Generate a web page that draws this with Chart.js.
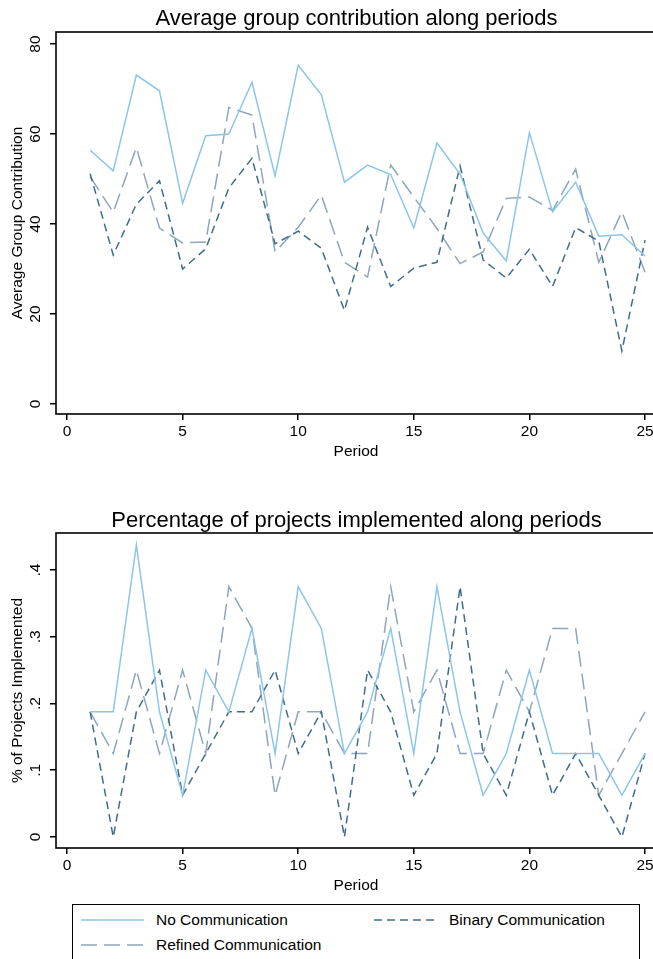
<!DOCTYPE html>
<html><head><meta charset="utf-8">
<script src="https://cdn.jsdelivr.net/npm/chart.js@4.4.0/dist/chart.umd.min.js"></script>
<style>
html,body{margin:0;padding:0;width:653px;height:959px;overflow:hidden;background:#fff;font-family:"Liberation Sans",Arial,sans-serif;}
canvas{position:absolute;left:0;}
#c1{top:0;}
#c2{top:470px;}
#legbox{position:absolute;left:72px;top:904px;width:568px;height:80px;border:1.6px solid #000;box-sizing:border-box;}
.lt{position:absolute;font-size:15.5px;line-height:18px;height:18px;color:#000;white-space:nowrap;}
.ls{position:absolute;}
</style>
</head><body>
<canvas id="c1" width="660" height="470"></canvas>
<canvas id="c2" width="660" height="430"></canvas>
<div id="legbox"></div>
<div id="legend"></div>
<script>
// ---- data ----
const periods = [1,2,3,4,5,6,7,8,9,10,11,12,13,14,15,16,17,18,19,20,21,22,23,24,25];
const seriesNames = ["No Communication","Binary Communication","Refined Communication"];

const contribNo      = [56.4,51.8,73.1,69.6,44.6,59.6,60.0,71.5,50.7,75.3,68.7,49.3,53.1,51.0,39.1,58.0,51.1,38.0,31.8,60.3,42.7,49.3,37.3,37.6,32.9];
const contribBinary  = [51.2,33.1,44.4,49.6,30.0,34.5,48.0,54.6,35.6,38.4,34.6,20.8,39.3,26.1,30.2,31.5,52.9,32.0,28.0,34.4,26.1,39.2,36.2,11.8,36.4];
const contribRefined = [50.5,42.6,57.0,39.1,35.8,36.0,65.9,64.2,33.8,39.3,46.4,31.5,28.2,53.1,46.0,39.0,31.2,33.8,45.7,46.0,43.0,52.2,31.5,42.7,29.3];

const projNo      = [0.1875,0.1875,0.4375,0.1875,0.0625,0.25,0.1875,0.3125,0.125,0.375,0.3125,0.125,0.1875,0.3125,0.125,0.375,0.1875,0.0625,0.125,0.25,0.125,0.125,0.125,0.0625,0.125];
const projBinary  = [0.1875,0,0.1875,0.25,0.0625,0.125,0.1875,0.1875,0.25,0.125,0.1875,0,0.25,0.1875,0.0625,0.125,0.375,0.125,0.0625,0.1875,0.0625,0.125,0.0625,0,0.125];
const projRefined = [0.1875,0.125,0.25,0.125,0.25,0.125,0.375,0.3125,0.0625,0.1875,0.1875,0.125,0.125,0.375,0.1875,0.25,0.125,0.125,0.25,0.1875,0.3125,0.3125,0.0625,0.125,0.1875];

const xTicks = [0,5,10,15,20,25];
const xTickLabels = ["0","5","10","15","20","25"];
const contribYTicks = [0,20,40,60,80];
const contribYLabels = ["0","20","40","60","80"];
const projYTicks = [0,0.1,0.2,0.3,0.4];
const projYLabels = ["0",".1",".2",".3",".4"];

// ---- style ----
const colors = ["#8cc5ea","#3e6d8b","#8ea5ba"];
const dashes = [[],[8,5],[16,7]];
const FONT = '"Liberation Sans", Arial, sans-serif';

function makeChart(id, cfg) {
  const series = cfg.series;
  const datasets = series.map((arr, k) => ({
    label: seriesNames[k],
    data: periods.map((p, i) => ({x: p, y: arr[i]})),
    borderColor: colors[k],
    borderWidth: 1.5,
    borderDash: dashes[k],
    borderCapStyle: 'butt',
    pointRadius: 0,
    tension: 0,
    fill: false
  }));
  const overlay = {
    id: 'overlay',
    afterDraw(chart) {
      const ctx = chart.ctx, a = chart.chartArea, ys = chart.scales.y;
      ctx.save();
      ctx.strokeStyle = '#000';
      ctx.lineWidth = 1.6;
      ctx.strokeRect(a.left, a.top, a.right - a.left, a.bottom - a.top);
      // title
      ctx.fillStyle = '#000';
      ctx.font = '22px ' + FONT;
      ctx.textAlign = 'center';
      ctx.textBaseline = 'alphabetic';
      ctx.fillText(cfg.title, (a.left + a.right) / 2 + 0.5, cfg.titleBaseline);
      // rotated y tick labels
      ctx.font = '15.5px ' + FONT;
      ctx.textBaseline = 'middle';
      cfg.yTicks.forEach((v, i) => {
        const py = ys.getPixelForValue(v);
        ctx.save();
        ctx.translate(36, py);
        ctx.rotate(-Math.PI / 2);
        ctx.fillText(cfg.yLabels[i], 0, 0);
        ctx.restore();
      });
      ctx.restore();
    }
  };
  return new Chart(document.getElementById(id), {
    type: 'line',
    data: {datasets},
    plugins: [overlay],
    options: {
      responsive: false,
      animation: false,
      devicePixelRatio: 1,
      layout: {padding: {top: cfg.padTop, left: 0, right: 4, bottom: 0}},
      plugins: {legend: {display: false}, tooltip: {enabled: false}, title: {display: false}},
      scales: {
        x: {
          type: 'linear',
          min: -0.476, max: 25.475,
          afterBuildTicks: s => { s.ticks = xTicks.map(v => ({value: v})); },
          afterFit: s => { s.height = cfg.xHeight; },
          ticks: {
            callback: (v, i) => xTickLabels[i],
            color: '#000', font: {family: FONT, size: 15.5}, padding: 2,
            maxRotation: 0, minRotation: 0, autoSkip: false
          },
          grid: {drawOnChartArea: false, drawTicks: true, tickLength: 6, color: '#000', lineWidth: 1.5},
          border: {display: false},
          title: {display: true, text: 'Period', color: '#000', font: {family: FONT, size: 15.5},
                  padding: {top: 0, bottom: cfg.xTitlePad}}
        },
        y: {
          type: 'linear',
          min: cfg.yMin, max: cfg.yMax,
          afterBuildTicks: s => { s.ticks = cfg.yTicks.map(v => ({value: v})); },
          afterFit: s => { s.width = 56; },
          ticks: {display: false},
          grid: {drawOnChartArea: false, drawTicks: true, tickLength: 6, color: '#000', lineWidth: 1.5},
          border: {display: false},
          title: {display: true, text: cfg.yTitle, color: '#000', font: {family: FONT, size: 15.5},
                  padding: {top: 8, bottom: 0}}
        }
      }
    }
  });
}

makeChart('c1', {
  series: [contribNo, contribBinary, contribRefined],
  title: 'Average group contribution along periods',
  titleBaseline: 25,
  yTitle: 'Average Group Contribution',
  yTicks: contribYTicks, yLabels: contribYLabels,
  yMin: -2.22, yMax: 82.67,
  padTop: 32, xHeight: 56, xTitlePad: 9.1
});

makeChart('c2', {
  series: [projNo, projBinary, projRefined],
  title: 'Percentage of projects implemented along periods',
  titleBaseline: 57,
  yTitle: '% of Projects Implemented',
  yTicks: projYTicks, yLabels: projYLabels,
  yMin: -0.0165, yMax: 0.4554,
  padTop: 63, xHeight: 52, xTitlePad: 5.1
});

// ---- legend ----
const legItems = [
  {k: 0, sx: 81, tx: 156, y: 920},
  {k: 1, sx: 374, tx: 449, y: 920},
  {k: 2, sx: 81, tx: 156, y: 945}
];
const leg = document.getElementById('legend');
legItems.forEach(it => {
  const svgNS = 'http://www.w3.org/2000/svg';
  const svg = document.createElementNS(svgNS, 'svg');
  svg.setAttribute('width', '64'); svg.setAttribute('height', '4');
  svg.setAttribute('class', 'ls');
  svg.style.left = it.sx + 'px'; svg.style.top = (it.y - 2) + 'px';
  const ln = document.createElementNS(svgNS, 'line');
  ln.setAttribute('x1', '0'); ln.setAttribute('x2', '63');
  ln.setAttribute('y1', '2'); ln.setAttribute('y2', '2');
  ln.setAttribute('stroke', colors[it.k]); ln.setAttribute('stroke-width', '1.5');
  if (dashes[it.k].length) ln.setAttribute('stroke-dasharray', dashes[it.k].join(' '));
  svg.appendChild(ln);
  leg.appendChild(svg);
  const t = document.createElement('div');
  t.className = 'lt';
  t.style.left = it.tx + 'px'; t.style.top = (it.y - 9) + 'px';
  t.textContent = seriesNames[it.k];
  leg.appendChild(t);
});
</script>
</body></html>
